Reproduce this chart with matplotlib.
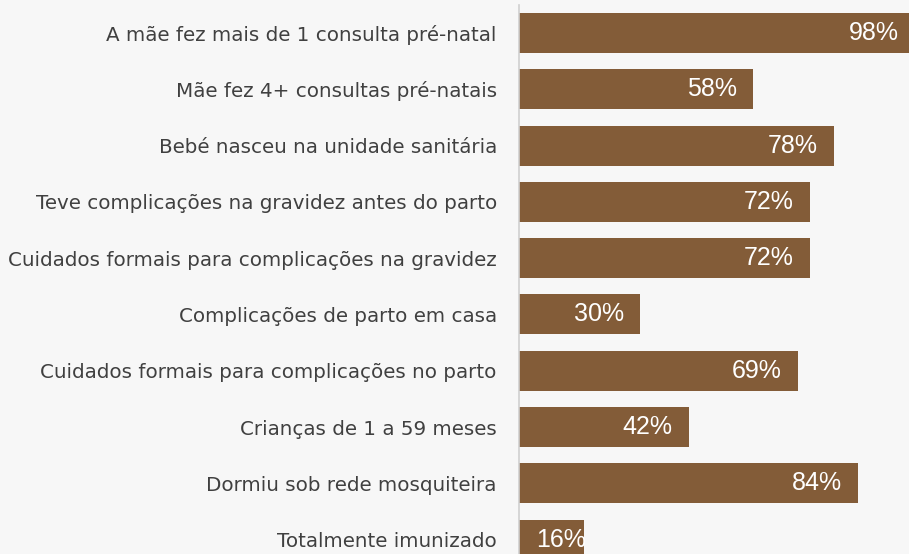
import matplotlib
matplotlib.use('Agg')
import matplotlib.pyplot as plt

categories = [
    'A mãe fez mais de 1 consulta pré-natal',
    'Mãe fez 4+ consultas pré-natais',
    'Bebé nasceu na unidade sanitária',
    'Teve complicações na gravidez antes do parto',
    'Cuidados formais para complicações na gravidez',
    'Complicações de parto em casa',
    'Cuidados formais para complicações no parto',
    'Crianças de 1 a 59 meses',
    'Dormiu sob rede mosquiteira',
    'Totalmente imunizado',
]
values = [98, 58, 78, 72, 72, 30, 69, 42, 84, 16]

bar_color = '#835c38'
bg = '#f7f7f7'

fig = plt.figure(figsize=(9.09, 5.54), dpi=100, facecolor=bg)
ax = fig.add_axes([0.571, -0.025, 0.444, 1.0163])
ax.set_facecolor(bg)

pos = list(range(len(categories)))
ax.barh(pos, values, height=0.71, color=bar_color)

# value labels sit inside the end of each bar
for y, v in zip(pos, values):
    if v < 20:
        ax.text(4.3, y, f'{v}%', ha='left', va='center', color='white',
                fontsize=18, family='Liberation Sans')
    else:
        ax.text(v - 4.0, y, f'{v}%', ha='right', va='center', color='white',
                fontsize=18, family='Liberation Sans')

ax.set_xlim(0, 100)
ax.set_ylim(9.5, -0.5)
ax.set_yticks(pos)
ax.set_yticklabels(categories, fontsize=14.3, color='#404040', family='DejaVu Sans')
ax.tick_params(axis='y', length=0, pad=16)
ax.set_xticks([])
for s in ['top', 'right', 'bottom']:
    ax.spines[s].set_visible(False)
ax.spines['left'].set_color('#d0d0d0')
ax.spines['left'].set_linewidth(1.2)

fig.savefig('out.png', dpi=100, facecolor=bg)
